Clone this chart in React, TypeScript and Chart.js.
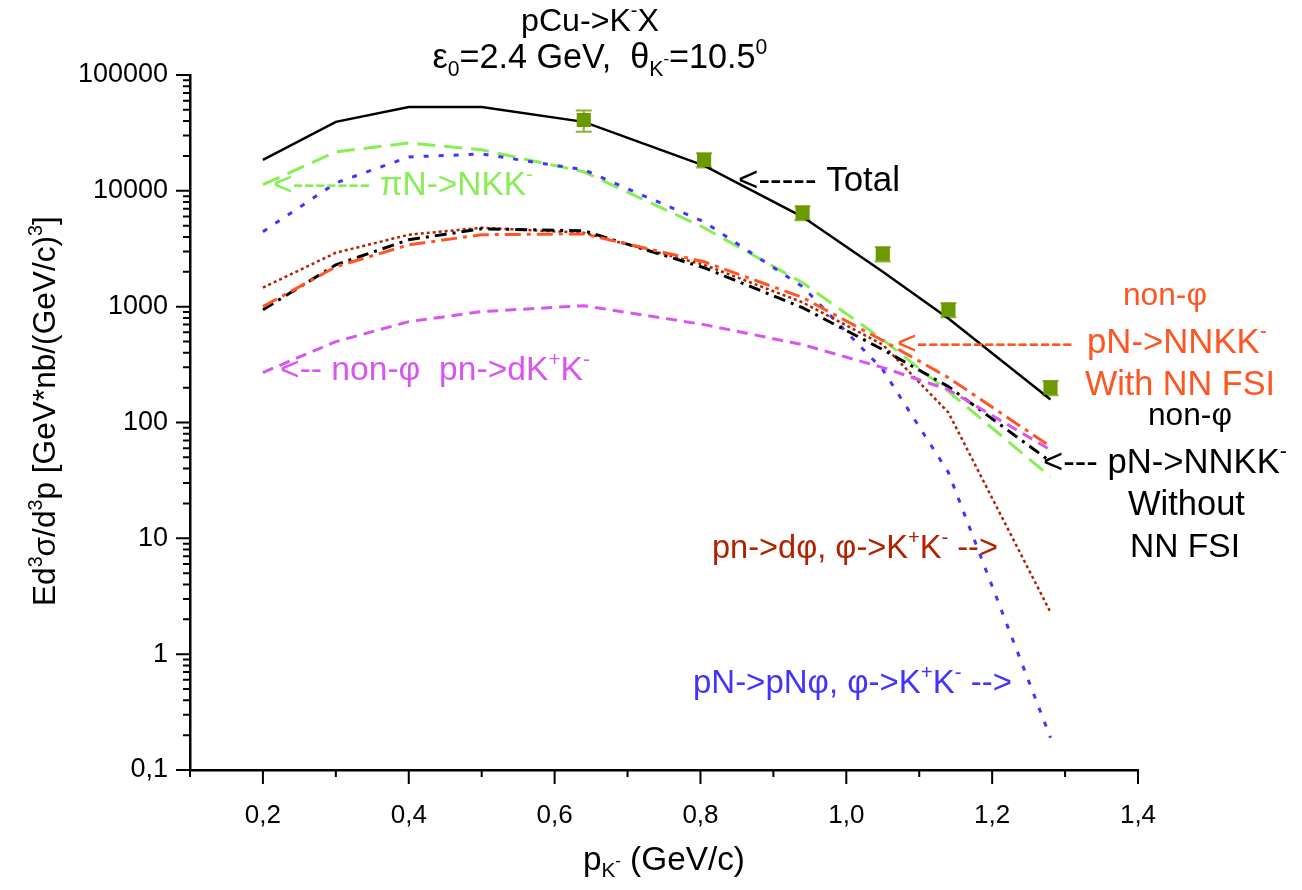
import React, { useEffect, useRef } from "react";
import { Chart, registerables } from "chart.js";

Chart.register(...registerables);

// ---------- data ----------
const X_MODEL = [0.2, 0.3, 0.4, 0.5, 0.64, 0.805, 0.94, 1.05, 1.14, 1.28];
const TOTAL = [18500, 39400, 53000, 53000, 39400, 16500, 5970, 2000, 790, 158];
const PIN_NKK = [11300, 21700, 25900, 22600, 14600, 4800, 1610, 520, 185, 34];
const PN_PNPHI = [4440, 11700, 19600, 20800, 15200, 5400, 1490, 286, 37, 0.19];
const PN_DPHI = [1460, 2920, 4180, 4800, 4340, 2300, 1090, 470, 122, 2.3];
const NONPHI_NOFSI = [942, 2300, 3780, 4700, 4520, 2170, 980, 426, 204, 46];
const NONPHI_FSI = [1000, 2210, 3420, 4180, 4250, 2440, 1200, 510, 244, 62];
const NONPHI_DKK = [270, 499, 743, 906, 1020, 700, 470, 298, 192, 58];

const X_DATA = [0.64, 0.805, 0.94, 1.05, 1.14, 1.28];
const Y_DATA = [40900, 18500, 6460, 2860, 942, 200];
const Y_ERR = [8500, 2600, 900, 400, 130, 28];

const X_TICKS = [0.2, 0.4, 0.6, 0.8, 1.0, 1.2, 1.4];
const X_TICK_LABELS = ["0,2", "0,4", "0,6", "0,8", "1,0", "1,2", "1,4"];
const X_MINOR = [0.1, 0.3, 0.5, 0.7, 0.9, 1.1, 1.3];
const Y_TICKS = [0.1, 1, 10, 100, 1000, 10000, 100000];
const Y_TICK_LABELS = ["0,1", "1", "10", "100", "1000", "10000", "100000"];

// ---------- styles ----------
const FONT = "'Liberation Sans', Arial, Helvetica, sans-serif";
const GREEN = "#88EE55";
const BLUE = "#4433FF";
const DARKRED = "#B22200";
const ORANGE = "#FF5522";
const MAGENTA = "#D855F0";
const OLIVE = "#6B9A00";
const OLIVE_LIGHT = "#8DB032";

type Seg = { t: string; s?: "sup" | "sub" | "subsup" };

function segSize(size: number, s?: string) {
  if (s === "subsup") return size * 0.5;
  if (s) return size * 0.62;
  return size;
}
function segDy(size: number, s?: string) {
  if (s === "sup") return -size * 0.42;
  if (s === "sub") return size * 0.22;
  if (s === "subsup") return -size * 0.12;
  return 0;
}
function measure(ctx: CanvasRenderingContext2D, segs: Seg[], size: number) {
  let w = 0;
  for (const g of segs) {
    ctx.font = `${segSize(size, g.s)}px ${FONT}`;
    w += ctx.measureText(g.t).width;
  }
  return w;
}
function drawSegs(ctx: CanvasRenderingContext2D, segs: Seg[], x: number, y: number, size: number, color: string) {
  ctx.fillStyle = color;
  ctx.textBaseline = "alphabetic";
  ctx.textAlign = "left";
  let cx = x;
  for (const g of segs) {
    ctx.font = `${segSize(size, g.s)}px ${FONT}`;
    ctx.fillText(g.t, cx, y + segDy(size, g.s));
    cx += ctx.measureText(g.t).width;
  }
}
// draw fitted into a given width; align left (x = left) or center (x = center)
function drawFit(ctx: CanvasRenderingContext2D, segs: Seg[], x: number, y: number, w: number, color: string, center = false) {
  const base = 32;
  const m = measure(ctx, segs, base);
  const size = (base * w) / m;
  const left = center ? x - w / 2 : x;
  drawSegs(ctx, segs, left, y, size, color);
}

const ANNOTATIONS: { segs: Seg[]; x: number; y: number; w: number; color: string }[] = [
  { segs: [{ t: "<------- πN->NKK" }, { t: "-", s: "sup" }], x: 273, y: 195, w: 260, color: GREEN },
  { segs: [{ t: "<----- Total" }], x: 738, y: 191, w: 162, color: "#000" },
  { segs: [{ t: "non-φ" }], x: 1123, y: 305, w: 84, color: ORANGE },
  { segs: [{ t: "<--------------" }], x: 897, y: 354, w: 176, color: ORANGE },
  { segs: [{ t: "pN->NNKK" }, { t: "-", s: "sup" }], x: 1087, y: 353, w: 180, color: ORANGE },
  { segs: [{ t: "With NN FSI" }], x: 1085, y: 395, w: 190, color: ORANGE },
  { segs: [{ t: "non-φ" }], x: 1148, y: 425, w: 84, color: "#000" },
  { segs: [{ t: "<--- pN->NNKK" }, { t: "-", s: "sup" }], x: 1043, y: 473, w: 244, color: "#000" },
  { segs: [{ t: "Without" }], x: 1128, y: 515, w: 117, color: "#000" },
  { segs: [{ t: "NN FSI" }], x: 1130, y: 557, w: 110, color: "#000" },
  {
    segs: [{ t: "pn->dφ, φ->K" }, { t: "+", s: "sup" }, { t: "K" }, { t: "-", s: "sup" }, { t: " -->" }],
    x: 712, y: 558, w: 286, color: DARKRED,
  },
  {
    segs: [{ t: "pN->pNφ, φ->K" }, { t: "+", s: "sup" }, { t: "K" }, { t: "-", s: "sup" }, { t: " -->" }],
    x: 693, y: 693, w: 319, color: BLUE,
  },
  {
    segs: [{ t: "<-- non-φ  pn->dK" }, { t: "+", s: "sup" }, { t: "K" }, { t: "-", s: "sup" }],
    x: 280, y: 380, w: 310, color: MAGENTA,
  },
];

const TITLE1: Seg[] = [{ t: "pCu->K" }, { t: "-", s: "sup" }, { t: "X" }];
const TITLE2: Seg[] = [
  { t: "ε" }, { t: "0", s: "sub" }, { t: "=2.4 GeV,  θ" }, { t: "K", s: "sub" }, { t: "-", s: "subsup" },
  { t: "=10.5" }, { t: "0", s: "sup" },
];
const Y_TITLE: Seg[] = [
  { t: "Ed" }, { t: "3", s: "sup" }, { t: "σ/d" }, { t: "3", s: "sup" }, { t: "p [GeV*nb/(GeV/c)" },
  { t: "3", s: "sup" }, { t: "]" },
];
const X_TITLE: Seg[] = [{ t: "p" }, { t: "K", s: "sub" }, { t: "-", s: "subsup" }, { t: " (GeV/c)" }];

const decorPlugin = {
  id: "decor",
  beforeDatasetsDraw(chart: any) {
    const ctx: CanvasRenderingContext2D = chart.ctx;
    const xs = chart.scales.x;
    const ys = chart.scales.y;
    ctx.save();
    ctx.strokeStyle = OLIVE_LIGHT;
    ctx.lineWidth = 2;
    X_DATA.forEach((xv, i) => {
      const px = xs.getPixelForValue(xv);
      const top = ys.getPixelForValue(Y_DATA[i] + Y_ERR[i]);
      const bot = ys.getPixelForValue(Y_DATA[i] - Y_ERR[i]);
      ctx.beginPath();
      ctx.moveTo(px, top);
      ctx.lineTo(px, bot);
      ctx.moveTo(px - 8, top);
      ctx.lineTo(px + 8, top);
      ctx.moveTo(px - 8, bot);
      ctx.lineTo(px + 8, bot);
      ctx.stroke();
    });
    ctx.restore();
  },
  afterDraw(chart: any) {
    const ctx: CanvasRenderingContext2D = chart.ctx;
    const xs = chart.scales.x;
    const ys = chart.scales.y;
    const area = chart.chartArea;
    ctx.save();
    // ticks
    ctx.strokeStyle = "#000";
    ctx.lineWidth = 2;
    ctx.beginPath();
    X_TICKS.forEach((v) => {
      const px = xs.getPixelForValue(v);
      ctx.moveTo(px, area.bottom);
      ctx.lineTo(px, area.bottom + 14);
    });
    X_MINOR.forEach((v) => {
      const px = xs.getPixelForValue(v);
      ctx.moveTo(px, area.bottom);
      ctx.lineTo(px, area.bottom + 7);
    });
    Y_TICKS.forEach((v) => {
      const py = ys.getPixelForValue(v);
      ctx.moveTo(area.left, py);
      ctx.lineTo(area.left - 14, py);
    });
    for (let d = 0; d < Y_TICKS.length - 1; d++) {
      for (let k = 2; k <= 9; k++) {
        const py = ys.getPixelForValue(Y_TICKS[d] * k);
        ctx.moveTo(area.left, py);
        ctx.lineTo(area.left - 7, py);
      }
    }
    ctx.stroke();

    // titles
    drawFit(ctx, TITLE1, 590, 31, 138, "#000", true);
    drawFit(ctx, TITLE2, 600, 68, 335, "#000", true);
    drawFit(ctx, X_TITLE, 583, 870, 162, "#000");
    ctx.save();
    ctx.translate(55, 411);
    ctx.rotate(-Math.PI / 2);
    drawFit(ctx, Y_TITLE, 0, 0, 390, "#000", true);
    ctx.restore();

    for (const a of ANNOTATIONS) drawFit(ctx, a.segs, a.x, a.y, a.w, a.color);
    ctx.restore();
  },
};

function line(label: string, ys: number[], color: string, dash: number[], width = 2.5) {
  return {
    label,
    data: X_MODEL.map((x, i) => ({ x, y: ys[i] })),
    borderColor: color,
    backgroundColor: color,
    borderWidth: width,
    borderDash: dash,
    borderCapStyle: "butt",
    pointRadius: 0,
    tension: 0,
    fill: false,
  };
}

export default function App() {
  const ref = useRef<HTMLCanvasElement | null>(null);
  useEffect(() => {
    document.body.style.margin = "0";
    const canvas = ref.current;
    if (!canvas) return;
    const chart = new Chart(canvas, {
      type: "line",
      data: {
        datasets: [
          {
            label: "Experiment",
            data: X_DATA.map((x, i) => ({ x, y: Y_DATA[i] })),
            showLine: false,
            pointStyle: "rect",
            pointRadius: 10,
            pointBackgroundColor: OLIVE,
            pointBorderColor: OLIVE,
            pointBorderWidth: 0,
            borderColor: OLIVE,
            backgroundColor: OLIVE,
          } as any,
          line("Total", TOTAL, "#000", [], 2.5),
          line("non-φ pn->dK+K-", NONPHI_DKK, MAGENTA, [11, 7], 3),
          line("non-φ pN->NNKK- with NN FSI", NONPHI_FSI, ORANGE, [16, 6, 4, 6], 3),
          line("non-φ pN->NNKK- without NN FSI", NONPHI_NOFSI, "#000", [12, 6, 3, 6], 3),
          line("pn->dφ", PN_DPHI, DARKRED, [3, 3], 2.5),
          line("pN->pNφ", PN_PNPHI, BLUE, [5, 10], 3),
          line("πN->NKK-", PIN_NKK, GREEN, [18, 9], 3),
        ],
      },
      options: {
        animation: false,
        responsive: false,
        devicePixelRatio: 1,
        layout: { padding: { left: 0, right: 164, top: 75, bottom: 0 } },
        plugins: { legend: { display: false }, tooltip: { enabled: false } },
        scales: {
          x: {
            type: "linear",
            min: 0.1,
            max: 1.4,
            afterBuildTicks: (s: any) => {
              s.ticks = X_TICKS.map((v) => ({ value: v }));
            },
            afterFit: (s: any) => {
              s.height = 120;
            },
            grid: { display: false, drawTicks: false },
            border: { display: true, color: "#000", width: 2.5 },
            ticks: {
              autoSkip: false,
              maxRotation: 0,
              padding: 30,
              color: "#000",
              font: { family: FONT, size: 26 },
              callback: (v: any) => {
                const i = X_TICKS.findIndex((t) => Math.abs(t - Number(v)) < 1e-6);
                return i >= 0 ? X_TICK_LABELS[i] : "";
              },
            },
          },
          y: {
            type: "logarithmic",
            min: 0.1,
            max: 100000,
            afterBuildTicks: (s: any) => {
              s.ticks = Y_TICKS.map((v) => ({ value: v }));
            },
            afterFit: (s: any) => {
              s.width = 190;
            },
            grid: { display: false, drawTicks: false },
            border: { display: true, color: "#000", width: 2.5 },
            ticks: {
              autoSkip: false,
              padding: 22,
              color: "#000",
              font: { family: FONT, size: 27 },
              callback: (v: any) => {
                const i = Y_TICKS.findIndex((t) => Math.abs(t - Number(v)) / t < 1e-6);
                return i >= 0 ? Y_TICK_LABELS[i] : "";
              },
            },
          },
        },
      } as any,
      plugins: [decorPlugin],
    });
    return () => chart.destroy();
  }, []);
  return (
    <div style={{ width: 1302, height: 890, position: "relative", background: "#fff" }}>
      <canvas ref={ref} width={1302} height={890} style={{ display: "block" }} />
    </div>
  );
}
